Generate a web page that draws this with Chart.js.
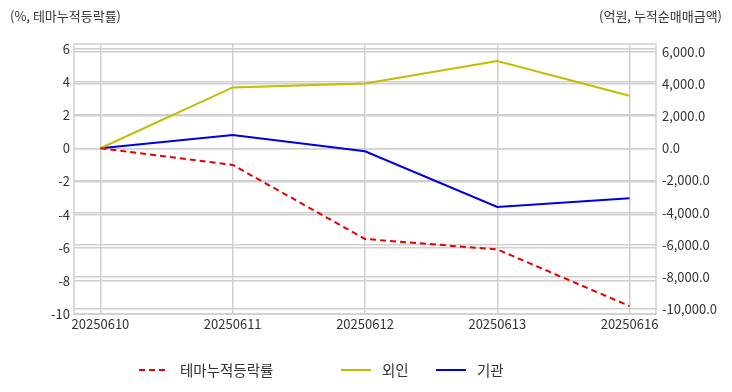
<!DOCTYPE html>
<html>
<head>
<meta charset="utf-8">
<script src="https://cdn.jsdelivr.net/npm/chart.js@4"></script>
<style>
  html, body { margin: 0; padding: 0; background: #fff; }
  #wrap { width: 732px; height: 392px; }
</style>
</head>
<body>
<div id="wrap"><canvas id="grafico" width="732" height="392"></canvas></div>
<script>
const fechas = ['20250610', '20250611', '20250612', '20250613', '20250616'];
const temaAcumulado = [0, -1.0, -5.47, -6.1, -9.52];   // %, left axis
const extranjeros = [0, 3780, 4030, 5420, 3260];        // 억원, right axis
const instituciones = [0, 830, -190, -3650, -3110];     // 억원, right axis
const nombres = ['테마누적등락률', '외인', '기관'];
const ticksIzq = [-10, -8, -6, -4, -2, 0, 2, 4, 6];
const ticksDer = [-10000, -8000, -6000, -4000, -2000, 0, 2000, 4000, 6000];

const fuente = '"Noto Sans CJK KR", "Noto Sans", sans-serif';
const gris = '#cfcfcf';
const texto = '#333';

function aPuntos(valores) {
  return valores.map((v, i) => ({ x: i, y: v }));
}

const marcoYTitulos = {
  id: 'marcoYTitulos',
  beforeDatasetsDraw(chart) {
    const { ctx, chartArea: a } = chart;
    ctx.save();
    ctx.strokeStyle = gris;
    ctx.lineWidth = 1.5;
    ctx.strokeRect(a.left, a.top, a.right - a.left, a.bottom - a.top);
    ctx.restore();
  },
  afterDraw(chart) {
    const ctx = chart.ctx;
    ctx.save();
    ctx.font = '13px ' + fuente;
    ctx.fillStyle = texto;
    ctx.textBaseline = 'middle';
    ctx.textAlign = 'left';
    ctx.fillText('(%, 테마누적등락률)', 10, 16);
    ctx.textAlign = 'right';
    ctx.fillText('(억원, 누적순매매금액)', 722, 16);

    // leyenda
    const xs = [139, 341, 436];
    ctx.font = '14.5px ' + fuente;
    chart.data.datasets.forEach((ds, i) => {
      const y = 370;
      ctx.strokeStyle = ds.borderColor;
      ctx.lineWidth = 2;
      ctx.setLineDash(ds.borderDash || []);
      ctx.beginPath();
      ctx.moveTo(xs[i], y);
      ctx.lineTo(xs[i] + 30, y);
      ctx.stroke();
      ctx.setLineDash([]);
      ctx.fillStyle = texto;
      ctx.textAlign = 'left';
      ctx.fillText(ds.label, xs[i] + 41, y);
    });
    ctx.restore();
  }
};

const ctx = document.getElementById('grafico').getContext('2d');

const grafico = new Chart(ctx, {
  type: 'line',
  data: {
    datasets: [
      {
        label: nombres[0],
        data: aPuntos(temaAcumulado),
        yAxisID: 'y',
        borderColor: '#e60000',
        borderDash: [6, 4],
        borderWidth: 2,
        pointRadius: 0,
        tension: 0
      },
      {
        label: nombres[1],
        data: aPuntos(extranjeros),
        yAxisID: 'y1',
        borderColor: '#c2bd00',
        borderWidth: 2,
        pointRadius: 0,
        tension: 0
      },
      {
        label: nombres[2],
        data: aPuntos(instituciones),
        yAxisID: 'y1',
        borderColor: '#0000e0',
        borderWidth: 2,
        pointRadius: 0,
        tension: 0
      }
    ]
  },
  options: {
    responsive: false,
    animation: false,
    layout: { padding: { top: 44, left: 0, right: 0, bottom: 0 } },
    plugins: {
      legend: { display: false },
      tooltip: { enabled: false }
    },
    scales: {
      x: {
        type: 'linear',
        min: -0.2,
        max: 4.2,
        afterBuildTicks(scale) {
          scale.ticks = fechas.map((f, i) => ({ value: i }));
        },
        afterFit(scale) { scale.height = 78; },
        grid: { color: gris, lineWidth: 1.5, drawTicks: false },
        border: { display: false },
        ticks: {
          padding: 2,
          color: texto,
          font: { family: fuente, size: 13 },
          maxRotation: 0,
          autoSkip: false,
          callback: (v) => fechas[v]
        }
      },
      y: {
        position: 'left',
        min: -10,
        max: 6.3,
        afterBuildTicks(scale) {
          scale.ticks = ticksIzq.map(v => ({ value: v }));
        },
        afterFit(scale) { scale.width = 74; },
        grid: { color: gris, lineWidth: 1.5, drawTicks: false },
        border: { display: false },
        ticks: {
          padding: 4,
          color: texto,
          autoSkip: false,
          font: { family: fuente, size: 13 },
          callback: (v) => String(v)
        }
      },
      y1: {
        position: 'right',
        min: -10300,
        max: 6480,
        afterBuildTicks(scale) {
          scale.ticks = ticksDer.map(v => ({ value: v }));
        },
        afterFit(scale) { scale.width = 76; },
        grid: { color: gris, lineWidth: 1.5, drawTicks: false },
        border: { display: false },
        ticks: {
          padding: 6,
          color: texto,
          autoSkip: false,
          font: { family: fuente, size: 13 },
          callback: (v) => v.toLocaleString('en-US', { minimumFractionDigits: 1, maximumFractionDigits: 1 })
        }
      }
    }
  },
  plugins: [marcoYTitulos]
});
</script>
</body>
</html>
